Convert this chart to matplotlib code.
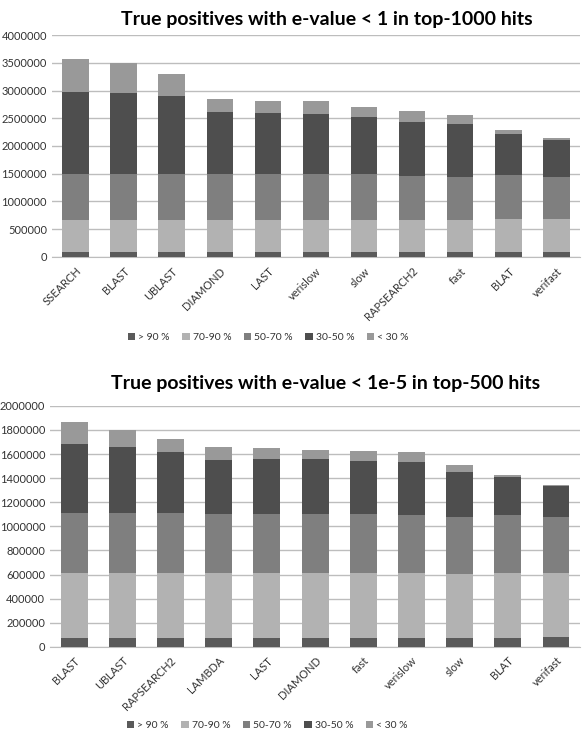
import numpy as np
import matplotlib
matplotlib.use("Agg")
import matplotlib.pyplot as plt

plt.rcParams['font.family'] = ['Lato', 'DejaVu Sans']

series = ['> 90 %', '70-90 %', '50-70 %', '30-50 %', '< 30 %']
colors = ['#5a5a5a', '#b2b2b2', '#7f7f7f', '#4e4e4e', '#999999']

# chart 1: e-value < 1, top-1000 hits (cumulative tops of each segment)
tools1 = ['SSEARCH', 'BLAST', 'UBLAST', 'DIAMOND', 'LAST', 'verislow', 'slow',
          'RAPSEARCH2', 'fast', 'BLAT', 'verifast']
top1_gt90 = [85000, 85000, 85000, 85000, 85000, 85000, 85000, 85000, 85000, 88000, 90000]
top1_70_90 = [672000, 672000, 672000, 672000, 672000, 672000, 672000, 660000, 660000, 684000, 690000]
top1_50_70 = [1500000, 1500000, 1500000, 1490000, 1490000, 1500000, 1490000, 1460000, 1440000, 1480000, 1450000]
top1_30_50 = [2980000, 2960000, 2900000, 2610000, 2600000, 2580000, 2520000, 2430000, 2390000, 2220000, 2100000]
top1_lt30 = [3575000, 3490000, 3300000, 2840000, 2810000, 2810000, 2700000, 2630000, 2550000, 2280000, 2150000]

# chart 2: e-value < 1e-5, top-500 hits
tools2 = ['BLAST', 'UBLAST', 'RAPSEARCH2', 'LAMBDA', 'LAST', 'DIAMOND', 'fast',
          'verislow', 'slow', 'BLAT', 'verifast']
top2_gt90 = [77000, 77000, 77000, 77000, 77000, 77000, 77000, 77000, 77000, 77000, 80000]
top2_70_90 = [610000, 610000, 610000, 610000, 610000, 610000, 610000, 610000, 605000, 616000, 616000]
top2_50_70 = [1110000, 1110000, 1110000, 1100000, 1100000, 1100000, 1100000, 1097000, 1077000, 1094000, 1077000]
top2_30_50 = [1680000, 1660000, 1616000, 1552000, 1563000, 1555000, 1541000, 1530000, 1453000, 1409000, 1331000]
top2_lt30 = [1865000, 1800000, 1727000, 1657000, 1649000, 1635000, 1622000, 1613000, 1508000, 1428000, 1345000]


def draw(ax, tools, tops, title, ymax, step, title_pad, legend_y):
    x = np.arange(len(tools))
    bottom = np.zeros(len(tools))
    for name, col, top in zip(series, colors, tops):
        top = np.array(top, dtype=float)
        ax.bar(x, top - bottom, bottom=bottom, width=0.56, color=col,
               label=name, zorder=3)
        bottom = top
    ax.set_xlim(-0.5, len(tools) - 0.5)
    ax.set_ylim(0, ymax)
    ax.set_yticks(np.arange(0, ymax + 1, step))
    ax.set_yticklabels([str(int(v)) for v in np.arange(0, ymax + 1, step)])
    ax.yaxis.grid(True, color='#bdbdbd', linewidth=1.0, zorder=0)
    for s in ['top', 'right', 'left']:
        ax.spines[s].set_visible(False)
    ax.spines['bottom'].set_color('#bdbdbd')
    ax.tick_params(axis='both', length=0, labelsize=8, colors='#333333')
    ax.set_xticks(x)
    ax.set_xticklabels(tools, rotation=45, ha='right', rotation_mode='anchor')
    ax.tick_params(axis='x', pad=6)
    ax.set_title(title, fontsize=14, fontweight='bold', pad=title_pad, x=0.52)
    ax.legend(loc='upper center', bbox_to_anchor=(0.41, legend_y), ncol=5,
              frameon=False, fontsize=7.5, handlelength=0.7, handleheight=0.7,
              handletextpad=0.3, columnspacing=1.2, labelcolor='#333333')


fig = plt.figure(figsize=(5.83, 7.3), dpi=100)
ax1 = fig.add_axes([0.089, 0.648, 0.906, 0.304])
ax2 = fig.add_axes([0.086, 0.114, 0.909, 0.330])

draw(ax1, tools1, [top1_gt90, top1_70_90, top1_50_70, top1_30_50, top1_lt30],
     'True positives with e-value < 1 in top-1000 hits', 4000000, 500000,
     7, -0.30)
draw(ax2, tools2, [top2_gt90, top2_70_90, top2_50_70, top2_30_50, top2_lt30],
     'True positives with e-value < 1e-5 in top-500 hits', 2000000, 200000,
     12, -0.27)

fig.savefig('out.png', dpi=100)
